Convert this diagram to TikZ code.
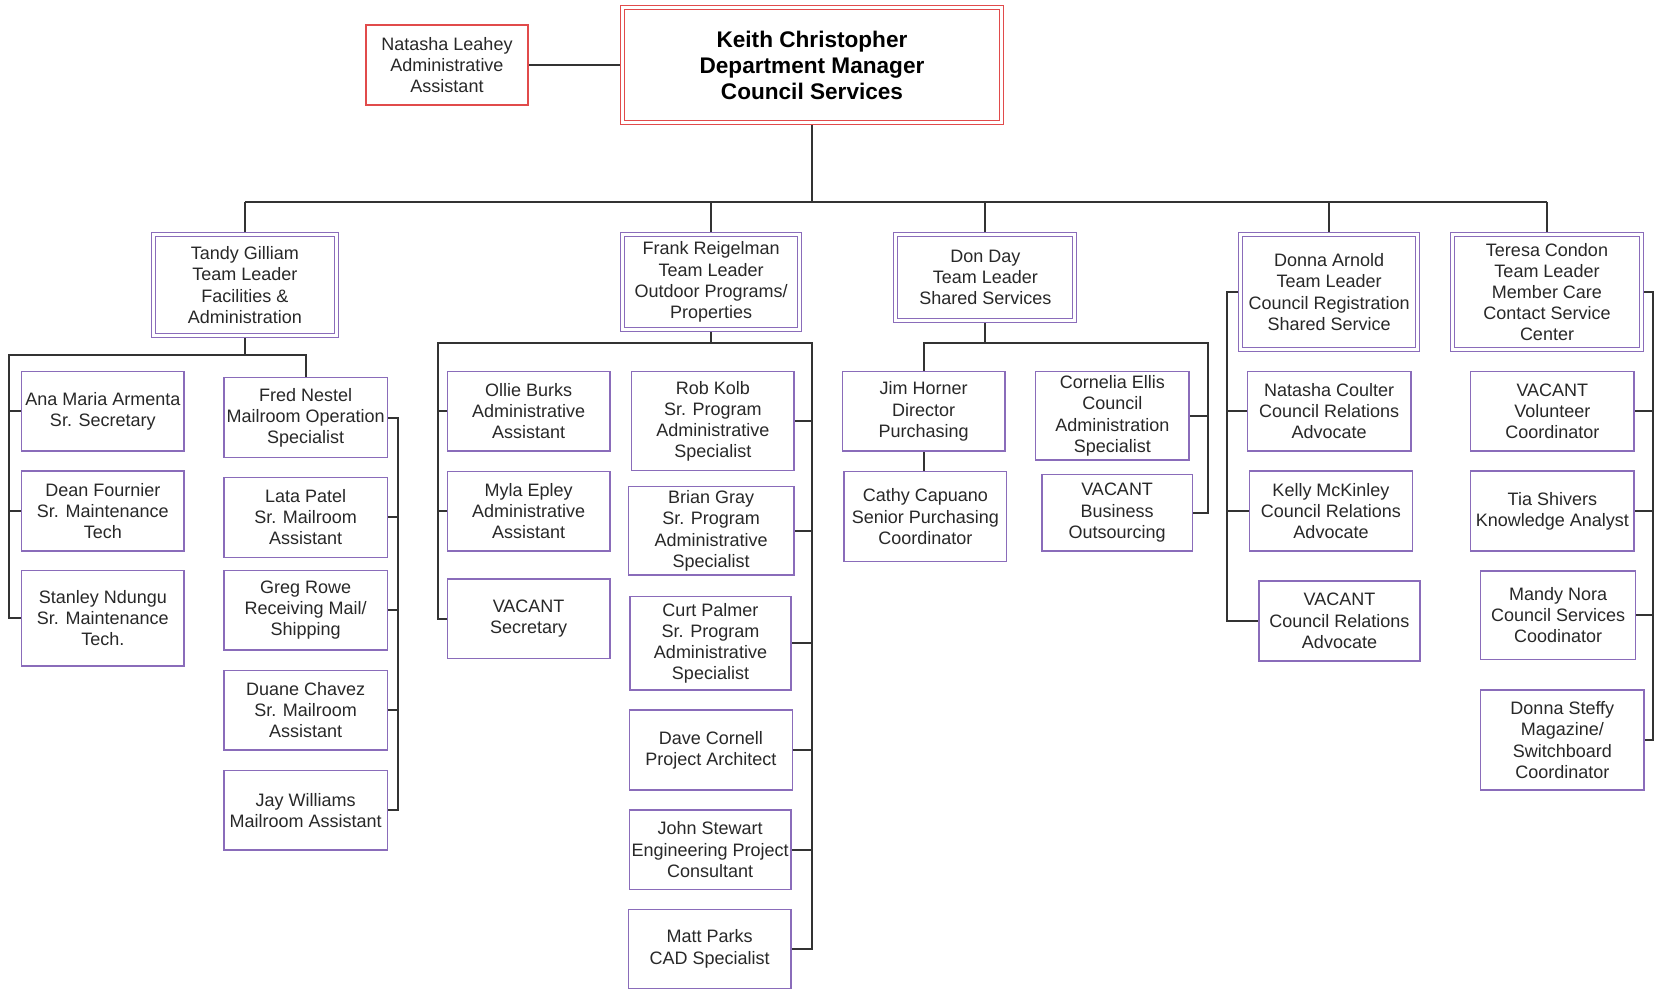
\documentclass[tikz,border=0pt]{standalone}
\usepackage{fontspec}
\setmainfont{Liberation Sans}
\usetikzlibrary{calc,backgrounds}
\definecolor{boxpurple}{RGB}{138,108,186}
\definecolor{topred}{RGB}{225,75,75}
\definecolor{txt}{RGB}{40,40,40}
\tikzset{
  box/.style={draw=boxpurple, line width=0.7pt, fill=white, inner sep=0pt, outer sep=0pt,
    align=center, text=txt, font=\fontsize{9}{10.6}\selectfont},
  lead/.style={box, line width=0.55pt, double=white, double distance=1.45pt},
  redbox/.style={box, draw=topred, line width=0.9pt},
  keithbox/.style={lead, draw=topred, text=black, font=\bfseries\fontsize{11.3}{13}\selectfont},
  conn/.style={draw=black!80, line width=0.9pt},
}
\newcommand\bx[7][box]{\node[#1, minimum width={(#5-#3)*0.5pt}, minimum height={(#6-#4)*0.5pt}] (#2) at ({(#3+#5)/2},{(#4+#6)/2}) {#7};}
\begin{document}
\begin{tikzpicture}[x=0.5pt,y=-0.5pt]
\useasboundingbox (0,0) rectangle (1656,990);
% top
\bx[redbox]{natasha}{366}{25}{528}{105}{Natasha Leahey\\Administrative\\Assistant}
\bx[keithbox]{keith}{622.5}{7.5}{1001.5}{122.5}{Keith Christopher\\Department Manager\\Council Services}
% team leaders
\bx[lead]{tandy}{153.2}{234.2}{336.5}{335.8}{Tandy Gilliam\\Team Leader\\Facilities \&\\Administration}
\bx[lead]{frank}{622.5}{234.2}{799.8}{329.8}{Frank Reigelman\\Team Leader\\Outdoor Programs/\\Properties}
\bx[lead]{don}{895.8}{234.2}{1074.8}{320.2}{Don Day\\Team Leader\\Shared Services}
\bx[lead]{donna}{1240.8}{234.2}{1417.5}{349.8}{Donna Arnold\\Team Leader\\Council Registration\\Shared Service}
\bx[lead]{teresa}{1452.5}{234.2}{1641.5}{349.8}{Teresa Condon\\Team Leader\\Member Care\\Contact Service\\Center}
% Tandy's team
\bx{ana}{21.7}{371.7}{184}{451}{Ana Maria Armenta\\Sr. Secretary}
\bx{dean}{21.7}{471}{184}{551}{Dean Fournier\\Sr. Maintenance\\Tech}
\bx{stanley}{21.7}{570.7}{184}{666}{Stanley Ndungu\\Sr. Maintenance\\Tech.}
\bx{fred}{224}{377.7}{387.3}{457.7}{Fred Nestel\\Mailroom Operation\\Specialist}
\bx{lata}{224}{477.3}{387.3}{557.3}{Lata Patel\\Sr. Mailroom\\Assistant}
\bx{greg}{224}{570.7}{387.3}{650}{Greg Rowe\\Receiving Mail/\\Shipping}
\bx{duane}{224}{670.7}{387.3}{750}{Duane Chavez\\Sr. Mailroom\\Assistant}
\bx{jay}{224}{770.7}{387.3}{850}{Jay Williams\\Mailroom Assistant}
% Frank's team
\bx{ollie}{447.3}{371.7}{610}{451}{Ollie Burks\\Administrative\\Assistant}
\bx{myla}{447.3}{471.7}{610}{551}{Myla Epley\\Administrative\\Assistant}
\bx{vsec}{447.3}{579}{610}{658.3}{VACANT\\Secretary}
\bx{rob}{631.7}{371.7}{794}{470.7}{Rob Kolb\\Sr. Program\\Administrative\\Specialist}
\bx{brian}{628.3}{486.7}{794}{575}{Brian Gray\\Sr. Program\\Administrative\\Specialist}
\bx{curt}{630}{596.7}{791}{690}{Curt Palmer\\Sr. Program\\Administrative\\Specialist}
\bx{dave}{629.3}{710}{792.3}{790}{Dave Cornell\\Project Architect}
\bx{john}{629.3}{810}{791}{889.3}{John Stewart\\Engineering Project\\Consultant}
\bx{matt}{628.3}{909.3}{791}{988.3}{Matt Parks\\CAD Specialist}
% Don's team
\bx{jim}{842.3}{371.7}{1005}{451}{Jim Horner\\Director\\Purchasing}
\bx{cathy}{844}{471.7}{1006.7}{561.7}{Cathy Capuano\\Senior Purchasing\\Coordinator}
\bx{cornelia}{1035.7}{371.7}{1189}{460}{Cornelia Ellis\\Council\\Administration\\Specialist}
\bx{vbus}{1042}{474.3}{1192.3}{551}{VACANT\\Business\\Outsourcing}
% Donna's team
\bx{ncoulter}{1247.3}{371.7}{1411}{451}{Natasha Coulter\\Council Relations\\Advocate}
\bx{kelly}{1249.3}{471}{1412.7}{551}{Kelly McKinley\\Council Relations\\Advocate}
\bx{vcr}{1259}{581}{1420}{661}{VACANT\\Council Relations\\Advocate}
% Teresa's team
\bx{vvol}{1470.7}{371.7}{1634}{451}{VACANT\\Volunteer\\Coordinator}
\bx{tia}{1470.7}{471}{1634}{551}{Tia Shivers\\Knowledge Analyst}
\bx{mandy}{1480.7}{571}{1635.7}{659.3}{Mandy Nora\\Council Services\\Coodinator}
\bx{dsteffy}{1480.7}{690}{1644}{790}{Donna Steffy\\Magazine/\\Switchboard\\Coordinator}
% connectors
\begin{pgfonlayer}{background}
\fill[white] (0,0) rectangle (1656,990);
\coordinate (bus) at (0,202);
\draw[conn] (natasha.east) -- (keith.west);
\draw[conn] (keith.south) -- (keith.south |- bus);
\draw[conn] (tandy.north |- bus) -- (teresa.north |- bus);
\foreach \n in {tandy,frank,don,donna,teresa} \draw[conn] (\n.north |- bus) -- (\n.north);
% Tandy
\coordinate (tl) at (9,355);
\coordinate (tr) at (398,0);
\draw[conn] (tandy.south) -- (tandy.south |- tl) -| (fred.north);
\draw[conn] (tandy.south |- tl) -- (tl) |- (stanley.west);
\foreach \n in {ana,dean} \draw[conn] (\n.west) -- (\n.west -| tl);
\draw[conn] (fred.east) -- (fred.east -| tr) -- (jay.east -| tr) -- (jay.east);
\foreach \n in {lata,greg,duane} \draw[conn] (\n.east) -- (\n.east -| tr);
% Frank
\coordinate (fl) at (438.3,342.7);
\coordinate (fr) at (812.3,342.7);
\draw[conn] (frank.south) -- (frank.south |- fl);
\draw[conn] (vsec.west) -| (fl) -- (fr) |- (matt.east);
\foreach \n in {ollie,myla} \draw[conn] (\n.west) -- (\n.west -| fl);
\foreach \n in {rob,brian,curt,dave,john} \draw[conn] (\n.east) -- (\n.east -| fr);
% Don
\coordinate (dr) at (1207.7,342.7);
\draw[conn] (don.south) -- (don.south |- dr);
\draw[conn] (jim.north) |- (dr) |- (vbus.east);
\draw[conn] (cornelia.east) -- (cornelia.east -| dr);
\draw[conn] (jim.south) -- (jim.south |- cathy.north);
% Donna
\coordinate (al) at (1227.3,0);
\draw[conn] (donna.west) -- (donna.west -| al) -- (al |- vcr.west) -- (vcr.west);
\foreach \n in {ncoulter,kelly} \draw[conn] (\n.west) -- (\n.west -| al);
% Teresa
\coordinate (trr) at (1653,0);
\draw[conn] (teresa.east) -- (teresa.east -| trr) -- (trr |- dsteffy.east) -- (dsteffy.east);
\foreach \n in {vvol,tia,mandy} \draw[conn] (\n.east) -- (\n.east -| trr);
\end{pgfonlayer}
\end{tikzpicture}
\end{document}
